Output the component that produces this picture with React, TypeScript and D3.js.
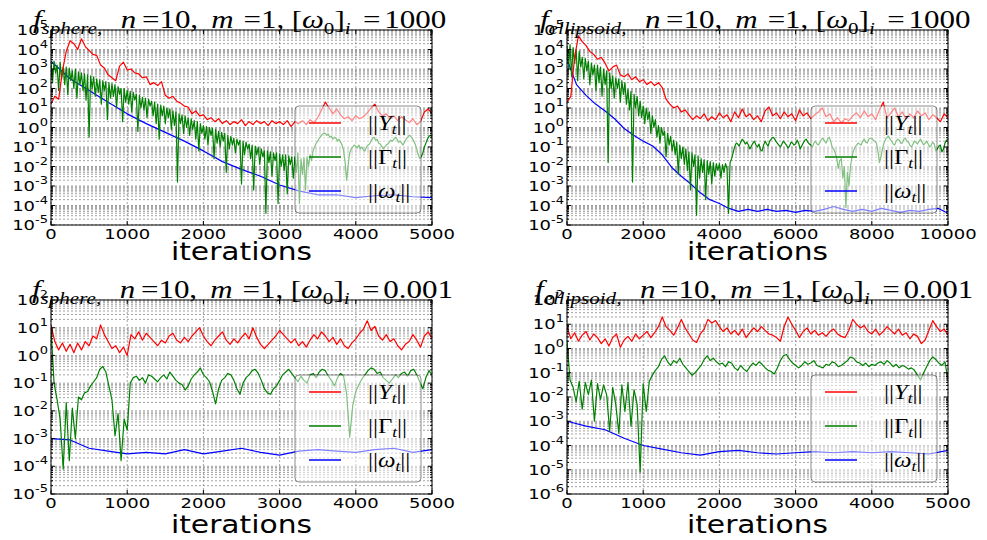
import * as d3 from 'd3';

// values are log10 of the plotted norms, one value every *Step iterations

// f_sphere, [w0]_i = 1000
const sphereHiRedStep = 50;
const sphereHiRed = [
  1.2, 1.6, 1.45, 2.9, 3.9, 4.45, 4.3, 4.0, 4.55, 4.15,
  3.95, 3.75, 3.7, 3.2, 3.05, 2.7, 2.55, 2.4, 3.15, 3.35,
  2.95, 3.0, 2.8, 2.75, 2.55, 2.6, 2.2, 2.3, 2.15, 2.35,
  1.65, 1.5, 1.6, 1.35, 1.25, 1.1, 1.05, 0.7, 0.85, 0.6,
  0.65, 0.4, 0.5, 0.3, 0.45, 0.2, 0.35, 0.15, 0.3, 0.2,
  0.4, 0.1, 0.3, 0.15, 0.35, 0.2, 0.3, 0.1, 0.35, 0.2,
  0.3, 0.15, 0.35, 0.05, 0.3, 0.2, 0.35, 0.15, 0.4, 0.25,
  0.5, 0.9, 1.3, 1.0, 0.7, 0.95, 0.65, 0.45, 0.55, 0.35,
  0.6, 0.45, 0.55, 0.75, 1.0, 1.2, 0.8, 0.6, 0.7, 0.45,
  0.6, 0.35, 0.55, 0.4, 0.25, 0.45, 0.15, 0.3, 0.8, 0.95,
  0.7,
];
const sphereHiGreenStep = 20;
const sphereHiGreen = [
  3.3, 2.3, 3.4, 2.8, 3.2, 1.9, 3.35, 2.5, 3.1, 2.2,
  3.1, 1.7, 3.05, 2.4, 2.9, 2.0, 3.0, 1.5, 2.85, 2.2,
  2.8, 1.9, 2.75, 1.4, 2.7, -0.5, 2.65, 2.0, 2.6, 1.6,
  2.5, 1.8, 2.45, 1.2, 2.4, 1.9, 2.35, 0.4, 2.3, 1.5,
  2.25, 1.6, 2.2, 1.0, 2.1, 1.7, 2.0, 0.3, 2.0, 1.3,
  1.9, 1.2, 1.85, 0.8, 1.8, 1.4, 1.7, -0.2, 1.65, 1.0,
  1.55, 0.9, 1.5, 0.5, 1.45, 1.1, 1.35, 0.6, 1.3, 0.2,
  1.2, -0.6, 1.15, 0.6, 1.1, 0.2, 1.0, 0.5, 0.95, -0.1,
  0.85, 0.1, 0.8, -2.8, 0.7, 0.2, 0.65, -0.3, 0.6, 0.0,
  0.5, -0.4, 0.45, -0.1, 0.35, -0.6, 0.3, -1.2, 0.2, -0.3,
  0.1, -0.6, 0.05, -0.9, 0.0, -0.4, -0.05, -1.6, -0.1, -0.8,
  -0.2, -1.0, -0.25, -0.7, -0.3, -2.3, -0.4, -1.1, -0.45, -0.9,
  -0.55, -1.3, -0.6, -0.9, -0.65, -2.9, -0.7, -1.4, -0.75, -1.1,
  -0.85, -1.6, -0.9, -3.2, -0.95, -1.4, -1.0, -1.9, -1.1, -1.5,
  -1.2, -4.4, -1.2, -1.8, -1.25, -2.5, -1.3, -1.7, -1.3, -3.9,
  -1.35, -2.0, -1.4, -2.2, -1.4, -3.4, -1.45, -1.9, -1.5, -2.6,
  -1.5, -2.3, -1.3, -3.9, -1.6, -2.4, -1.55, -3.2, -1.5, -2.0,
  -1.4, -1.7, -1.2, -1.0, -0.8, -0.7, -0.55, -0.45, -0.35, -0.3,
  -0.3, -0.4, -0.35, -0.5, -0.45, -0.6, -0.5, -0.55, -0.7, -0.6,
  -0.75, -0.9, -1.2, -1.8, -2.7, -1.9, -1.3, -1.1, -1.0, -0.9,
  -0.95, -1.05, -0.9, -1.1, -1.0, -1.15, -1.2, -1.0, -0.9, -0.85,
  -0.7, -0.55, -0.5, -0.65, -0.6, -0.8, -0.85, -0.95, -1.1, -1.0,
  -0.9, -0.85, -0.75, -0.65, -0.7, -0.6, -0.5, -0.6, -0.75, -0.7,
  -0.8, -0.9, -0.75, -0.6, -0.5, -0.4, -0.45, -0.55, -0.7, -0.85,
  -1.1, -1.4, -1.6, -1.5, -1.3, -1.0, -0.8, -0.6, -0.45, -0.4,
  -0.5,
];
const sphereHiBlueStep = 250;
const sphereHiBlue = [
  3.4, 2.5, 1.9, 1.3, 0.7, 0.2, -0.25, -0.7, -1.2, -1.75,
  -2.15, -2.5, -2.95, -3.25, -3.45, -3.45, -3.6, -3.5, -3.45, -3.55,
  -3.6,
];

// f_ellipsoid, [w0]_i = 1000
const ellipHiRedStep = 100;
const ellipHiRed = [
  1.3, 1.6, 3.6, 4.7, 4.4, 4.2, 3.9, 3.75, 3.5, 3.6,
  3.3, 2.9, 3.1, 3.2, 2.7, 2.6, 2.75, 2.45, 2.6, 2.35,
  2.45, 2.2, 2.35, 2.15, 2.3, 2.05, 1.45, 1.2, 1.0, 1.1,
  0.8, 0.9, 0.65, 0.4, 0.6, 0.45, 0.7, 0.35, 0.55, 0.4,
  0.75, 0.5, 0.65, 0.3, 0.8, 0.5, 0.95, 0.55, 0.7, 0.4,
  0.6, 0.3, 0.85, 1.05, 0.6, 0.75, 0.45, 0.8, 0.55, 0.7,
  0.35, 0.9, 0.6, 0.75, 0.45, 0.65, 0.8, 1.0, 0.55, 0.7,
  0.3, 0.5, 0.25, 0.45, 0.35, 0.6, 0.75, 0.5, 0.85, 0.55,
  0.7, 0.4, 0.9, 1.3, 0.5, 0.75, 1.0, 0.55, 0.8, 0.45,
  0.7, 0.5, 0.85, 0.6, 0.75, 0.4, 0.65, 0.5, 0.3, 0.7,
  0.5,
];
const ellipHiGreenStep = 40;
const ellipHiGreen = [
  4.2, 3.0, 4.25, 2.6, 4.1, 3.3, 4.0, 2.4, 3.9, 3.1,
  3.6, 2.5, 3.55, 2.9, 3.4, 2.2, 3.3, 2.7, 3.2, 1.9,
  3.2, 2.3, 3.1, 1.6, 3.0, 2.2, 2.9, -1.8, 2.8, 2.0,
  2.65, 1.5, 2.55, 2.0, 2.5, 1.3, 2.4, 1.7, 2.3, 1.2,
  1.95, 0.9, 1.85, -2.8, 1.7, 1.0, 1.6, 0.6, 1.35, 0.5,
  1.1, 0.2, 1.0, 0.4, 0.8, -0.3, 0.6, 0.0, 0.4, -0.5,
  0.1, -0.8, 0.0, -0.4, -0.2, -1.5, -0.3, -0.9, -0.45, -1.2,
  -0.65, -1.4, -0.75, -2.4, -0.9, -1.6, -1.0, -1.9, -1.1, -2.2,
  -1.25, -3.2, -1.3, -2.0, -1.4, -4.5, -1.45, -2.6, -1.6, -2.3,
  -1.65, -3.7, -1.7, -2.4, -1.75, -2.9, -1.8, -2.5, -1.85, -2.2,
  -1.85, -2.6, -1.9, -2.3, -1.85, -2.1, -4.4, -1.8, -1.6, -1.3,
  -1.0, -0.8, -0.85, -0.95, -0.75, -0.6, -0.7, -0.85, -0.75, -0.9,
  -1.1, -0.95, -0.8, -0.7, -0.9, -1.0, -0.85, -1.15, -1.2, -0.9,
  -0.7, -0.85, -0.95, -0.7, -0.6, -0.5, -0.55, -0.7, -0.8, -0.9,
  -1.0, -0.85, -0.7, -0.8, -0.9, -1.05, -0.95, -0.75, -0.8, -0.9,
  -0.85, -0.65, -0.8, -1.1, -0.95, -0.8, -0.65, -0.6, -0.75, -0.85,
  -0.9, -1.0, -0.8, -0.7, -0.85, -0.9, -0.75, -0.6, -0.55, -0.7,
  -0.8, -0.6, -0.5, -0.7, -1.0, -1.1, -1.3, -1.6, -2.1, -1.7,
  -1.6, -2.6, -2.0, -4.1, -2.3, -3.0, -2.0, -1.5, -1.2, -1.0,
  -0.9, -0.8, -0.85, -0.9, -0.7, -0.6, -0.75, -0.8, -0.6, -0.55,
  -0.55, -0.65, -0.7, -0.8, -1.2, -1.8, -1.5, -1.1, -0.8, -0.6,
  -0.5, -0.45, -0.6, -0.7, -0.85, -0.9, -0.7, -0.6, -0.65, -0.8,
  -0.8, -0.6, -0.55, -0.7, -0.75, -0.9, -1.0, -0.85, -0.7, -0.75,
  -0.85, -0.7, -0.6, -0.75, -0.9, -0.8, -0.7, -0.85, -1.0, -0.9,
  -0.75, -0.85, -1.2, -1.1, -0.95, -0.9, -1.25, -1.1, -0.8, -0.65,
  -0.6,
];
const ellipHiBlueStep = 250;
const ellipHiBlue = [
  3.5, 2.2, 1.65, 1.2, 0.85, 0.45, -0.05, -0.4, -0.7, -0.95,
  -1.4, -2.05, -2.5, -2.9, -3.35, -3.7, -3.9, -4.15, -4.3, -4.2,
  -4.3, -4.2, -4.3, -4.25, -4.35, -4.25, -4.3, -4.2, -4.05, -4.2,
  -4.3, -4.2, -4.3, -4.15, -4.25, -4.35, -4.25, -4.3, -4.2, -4.15,
  -4.4,
];

// f_sphere, [w0]_i = 0.001
const sphereLoRedStep = 50;
const sphereLoRed = [
  1.1, 0.5, 0.2, 0.45, 0.15, 0.4, 0.1, 0.45, 0.2, 0.5,
  0.35, 0.7, 0.6, 1.1, 0.75, 0.5, 0.25, 0.35, 0.1, 0.3,
  0.0, 0.75, 0.6, 0.85, 0.55, 0.8, 0.65, 0.5, 0.35, 0.55,
  0.45, 0.7, 0.8, 0.55, 0.45, 0.65, 0.5, 0.7, 0.85, 1.0,
  0.7, 0.5, 0.35, 0.55, 0.7, 0.85, 0.55, 0.4, 0.6, 0.45,
  0.65, 0.8, 0.6, 1.0, 0.65, 0.4, 0.25, 0.4, 0.55, 0.7,
  0.9, 0.75, 0.6, 0.45, 0.6, 0.35, 0.5, 0.3, 0.55, 0.75,
  0.6, 0.85, 0.7, 0.5, 0.65, 0.4, 0.6, 0.35, 0.25, 0.45,
  0.6, 0.8, 0.95, 1.25, 0.9, 1.05, 0.7, 0.55, 0.75, 0.5,
  0.6, 0.35, 0.2, 0.4, 0.5, 0.75, 0.55, 0.3, 0.7, 0.85,
  0.6,
];
const sphereLoGreenStep = 40;
const sphereLoGreen = [
  1.0, -1.0, -1.6, -2.3, -4.1, -1.7, -3.8, -1.9, -3.0, -1.5,
  -1.6, -1.35, -1.3, -1.1, -0.95, -0.8, -0.5, -0.4, -0.6, -1.1,
  -1.6, -2.9, -2.1, -3.8, -2.3, -2.7, -1.0, -0.8, -0.75, -0.9,
  -0.8, -1.0, -0.7, -0.75, -0.85, -0.95, -0.8, -0.7, -0.85, -0.6,
  -0.75, -0.9, -1.0, -1.05, -1.25, -1.1, -0.85, -0.7, -0.6, -0.45,
  -0.7, -0.8, -0.95, -1.3, -1.75, -1.2, -0.9, -0.8, -0.65, -0.7,
  -0.9, -1.2, -1.4, -1.0, -0.8, -0.7, -0.55, -0.5, -0.65, -0.9,
  -1.2, -1.35, -1.4, -1.2, -1.1, -0.9, -0.7, -0.6, -0.5, -0.65,
  -0.8, -0.95, -0.75, -0.9, -1.0, -0.7, -0.65, -0.8, -0.6, -0.5,
  -0.55, -0.75, -0.9, -1.1, -0.8, -0.65, -0.75, -1.4, -2.95, -1.8,
  -1.3, -1.05, -0.85, -0.7, -0.55, -0.45, -0.5, -0.65, -0.6, -0.8,
  -0.9, -1.0, -0.85, -0.7, -0.8, -0.65, -0.6, -0.75, -0.55, -0.5,
  -0.7, -0.95, -1.2, -0.8, -0.55, -0.7,
];
const sphereLoBlueStep = 250;
const sphereLoBlue = [
  -3.0, -3.05, -3.35, -3.45, -3.55, -3.5, -3.55, -3.4, -3.55, -3.45,
  -3.35, -3.5, -3.6, -3.45, -3.4, -3.45, -3.5, -3.4, -3.35, -3.5,
  -3.4,
];

// f_ellipsoid, [w0]_i = 0.001
const ellipLoRedStep = 50;
const ellipLoRed = [
  0.9, 0.4, 0.65, 0.3, 0.55, 0.7, 0.35, 0.6, 0.45, 0.2,
  0.4, 0.1, 0.45, 0.6, 0.05, 0.35, 0.5, 0.3, 0.6, 0.4,
  0.55, 0.7, 0.45, 0.65, 0.9, 1.3, 0.9, 0.75, 0.55, 0.85,
  1.2, 0.85, 0.6, 0.35, 0.25, 0.6, 0.8, 1.2, 1.05, 1.15,
  0.9, 0.7, 0.85, 0.6, 0.75, 0.55, 0.8, 0.45, 0.65, 0.85,
  0.7, 0.9, 0.75, 0.6, 0.55, 0.45, 0.3, 0.9, 1.3, 1.0,
  0.75, 0.45, 0.7, 0.85, 0.6, 0.75, 0.55, 0.65, 0.5, 0.7,
  0.8, 0.6, 0.5, 0.45, 0.75, 1.2, 1.0, 0.85, 0.95, 0.7,
  0.6, 0.8, 0.55, 0.7, 0.9, 0.75, 0.6, 0.8, 0.55, 0.65,
  0.4, 0.6, 0.5, 0.2, 0.35, 0.75, 1.15, 0.9, 0.7, 0.8,
  0.55,
];
const ellipLoGreenStep = 40;
const ellipLoGreen = [
  0.3, -1.3, -1.6, -2.2, -1.35, -2.5, -1.4, -1.9, -1.3, -3.0,
  -1.45, -2.1, -1.5, -1.9, -3.4, -1.6, -2.3, -3.5, -1.5, -2.6,
  -1.4, -3.2, -1.7, -2.3, -5.1, -1.45, -2.6, -1.35, -1.1, -0.9,
  -0.75, -0.45, -0.3, -0.55, -0.7, -0.5, -0.6, -0.4, -0.65, -0.8,
  -0.95, -1.1, -1.0, -0.85, -0.7, -0.45, -0.3, -0.5, -0.4, -0.55,
  -0.65, -0.6, -0.75, -0.55, -0.6, -0.8, -0.9, -0.7, -0.85, -0.95,
  -0.75, -0.6, -0.7, -0.55, -0.65, -0.8, -0.9, -0.95, -1.05, -0.8,
  -0.5, -0.3, -0.25, -0.45, -0.6, -0.7, -0.8, -0.7, -0.55, -0.65,
  -0.6, -0.5, -0.7, -0.75, -0.8, -0.65, -0.7, -0.55, -0.6, -0.75,
  -0.7, -0.6, -0.5, -0.35, -0.4, -0.55, -0.6, -0.7, -0.6, -0.75,
  -0.65, -0.7, -0.6, -0.55, -0.65, -0.5, -0.6, -0.75, -0.65, -0.8,
  -0.7, -0.75, -0.85, -0.8, -0.9, -1.1, -1.3, -1.0, -0.75, -0.5,
  -0.35, -0.45, -0.6, -0.7, -0.55, -1.3,
];
const ellipLoBlueStep = 250;
const ellipLoBlue = [
  -3.0, -3.2, -3.35, -3.7, -4.0, -4.15, -4.3, -4.4, -4.25, -4.2,
  -4.3, -4.35, -4.3, -4.25, -4.3, -4.25, -4.3, -4.25, -4.3, -4.35,
  -4.2,
];

const COLORS = { red: '#ff0000', green: '#008000', blue: '#0000ff' };
const SX = 1.24; // the source figure is stretched horizontally
const SERIF = "'Liberation Serif', 'DejaVu Serif', serif";
const SANS = "'DejaVu Sans', sans-serif";

type Series = { vals: number[]; step: number; color: string };

const panels = [
  {
    id: 'p1', fn: 'sphere', w0: '1000', xMax: 5000, lo: -5, hi: 5,
    left: 51, right: 432, top: 30, bottom: 225, xlabelY: 260, titleX: 33,
    series: [
      { vals: sphereHiBlue, step: sphereHiBlueStep, color: COLORS.blue },
      { vals: sphereHiGreen, step: sphereHiGreenStep, color: COLORS.green },
      { vals: sphereHiRed, step: sphereHiRedStep, color: COLORS.red },
    ],
  },
  {
    id: 'p2', fn: 'ellipsoid', w0: '1000', xMax: 10000, lo: -5, hi: 5,
    left: 567, right: 948, top: 30, bottom: 225, xlabelY: 260, titleX: 540,
    series: [
      { vals: ellipHiBlue, step: ellipHiBlueStep, color: COLORS.blue },
      { vals: ellipHiGreen, step: ellipHiGreenStep, color: COLORS.green },
      { vals: ellipHiRed, step: ellipHiRedStep, color: COLORS.red },
    ],
  },
  {
    id: 'p3', fn: 'sphere', w0: '0.001', xMax: 5000, lo: -5, hi: 2,
    left: 51, right: 432, top: 300, bottom: 494, xlabelY: 533, titleX: 32,
    series: [
      { vals: sphereLoBlue, step: sphereLoBlueStep, color: COLORS.blue },
      { vals: sphereLoGreen, step: sphereLoGreenStep, color: COLORS.green },
      { vals: sphereLoRed, step: sphereLoRedStep, color: COLORS.red },
    ],
  },
  {
    id: 'p4', fn: 'ellipsoid', w0: '0.001', xMax: 5000, lo: -6, hi: 2,
    left: 567, right: 948, top: 300, bottom: 494, xlabelY: 533, titleX: 535,
    series: [
      { vals: ellipLoBlue, step: ellipLoBlueStep, color: COLORS.blue },
      { vals: ellipLoGreen, step: ellipLoGreenStep, color: COLORS.green },
      { vals: ellipLoRed, step: ellipLoRedStep, color: COLORS.red },
    ],
  },
];

function Stretched({ x, y, children }: { x: number; y: number; children: any }) {
  return <g transform={`translate(${x},${y}) scale(${SX},1)`}>{children}</g>;
}

function Title({ x, y, fn, w0 }: { x: number; y: number; fn: string; w0: string }) {
  return (
    <Stretched x={x} y={y}>
      <text fontFamily={SERIF} fontSize={25} fill="#000" style={{ whiteSpace: 'pre' }}>
        <tspan fontStyle="italic">f</tspan>
        <tspan fontStyle="italic" fontSize={17} dy={6}>{fn + ','}</tspan>
        <tspan fontStyle="italic" dy={-6} dx={15}>n</tspan>
        <tspan dx={4.5}>=10,</tspan>
        <tspan fontStyle="italic" dx={10.5}>m</tspan>
        <tspan dx={8}>=1,</tspan>
        <tspan dx={6}>[</tspan>
        <tspan fontStyle="italic">ω</tspan>
        <tspan fontSize={17} dy={6}>0</tspan>
        <tspan dy={-6}>]</tspan>
        <tspan fontStyle="italic" fontSize={17} dy={6}>i</tspan>
        <tspan dy={-6} dx={10}>=</tspan>
        <tspan dx={3}>{w0}</tspan>
      </text>
    </Stretched>
  );
}

const legendItems = [
  { color: COLORS.red, sym: 'Y', italic: true },
  { color: COLORS.green, sym: 'Γ', italic: false },
  { color: COLORS.blue, sym: 'ω', italic: true },
];

function Legend({ right, bottom }: { right: number; bottom: number }) {
  const lx = right - 137;
  const ly = bottom - 119;
  return (
    <g>
      <rect x={lx} y={ly} width={126} height={107} rx={4} ry={4}
        fill="#fff" fillOpacity={0.5} stroke="#000" strokeOpacity={0.45} strokeWidth={1} />
      {legendItems.map((it, i) => {
        const ry = ly + 17 + i * 34;
        return (
          <g key={it.sym}>
            <line x1={lx + 14} x2={lx + 46} y1={ry} y2={ry} stroke={it.color} strokeWidth={1.5} />
            <Stretched x={lx + 73} y={ry + 7}>
              <text fontFamily={SERIF} fontSize={20} fill="#000">
                <tspan>||</tspan>
                <tspan fontStyle={it.italic ? 'italic' : 'normal'}>{it.sym}</tspan>
                <tspan fontStyle="italic" fontSize={14} dy={4}>t</tspan>
                <tspan dy={-4}>||</tspan>
              </text>
            </Stretched>
          </g>
        );
      })}
    </g>
  );
}

function Panel({ p }: { p: typeof panels[number] }) {
  const x = d3.scaleLinear().domain([0, p.xMax]).range([p.left, p.right]);
  const y = d3.scaleLog().domain([10 ** p.lo, 10 ** p.hi]).range([p.bottom, p.top]);
  const decades = d3.range(p.lo, p.hi + 1);
  const minors = d3.range(p.lo, p.hi).flatMap((e) => d3.range(2, 10).map((k) => k * 10 ** e));
  const hLines = [...decades.map((e) => 10 ** e), ...minors];
  const xTicks = x.ticks(5);
  const path = (s: Series) =>
    d3.line<number>()
      .x((_, i) => x(i * s.step))
      .y((v) => y(10 ** v))(s.vals) || '';
  const cx = (p.left + p.right) / 2;

  return (
    <g>
      <defs>
        <clipPath id={`clip-${p.id}`}>
          <rect x={p.left} y={p.top} width={p.right - p.left} height={p.bottom - p.top} />
        </clipPath>
      </defs>
      <rect x={p.left} y={p.top} width={p.right - p.left} height={p.bottom - p.top} fill="#fff" />
      {/* grid on every decade and every minor step of the log axis */}
      {hLines.map((v, i) => (
        <line key={`hg${i}`} x1={p.left} x2={p.right} y1={y(v)} y2={y(v)}
          stroke="#8c8c8c" strokeWidth={0.8} strokeDasharray="2,2" />
      ))}
      {xTicks.map((t) => (
        <line key={`vg${t}`} x1={x(t)} x2={x(t)} y1={p.top} y2={p.bottom}
          stroke="#8c8c8c" strokeWidth={0.8} strokeDasharray="2,2" />
      ))}
      <g clipPath={`url(#clip-${p.id})`}>
        {p.series.map((s, i) => (
          <path key={i} d={path(s)} fill="none" stroke={s.color} strokeWidth={1.2} strokeLinejoin="round" />
        ))}
      </g>
      <Legend right={p.right} bottom={p.bottom} />
      {/* inward ticks */}
      {decades.map((e) => (
        <g key={`ytM${e}`} stroke="#000" strokeWidth={1}>
          <line x1={p.left} x2={p.left + 4} y1={y(10 ** e)} y2={y(10 ** e)} />
          <line x1={p.right - 4} x2={p.right} y1={y(10 ** e)} y2={y(10 ** e)} />
        </g>
      ))}
      {minors.map((v, i) => (
        <g key={`ytm${i}`} stroke="#000" strokeWidth={1}>
          <line x1={p.left} x2={p.left + 2} y1={y(v)} y2={y(v)} />
          <line x1={p.right - 2} x2={p.right} y1={y(v)} y2={y(v)} />
        </g>
      ))}
      {xTicks.map((t) => (
        <g key={`xt${t}`} stroke="#000" strokeWidth={1}>
          <line x1={x(t)} x2={x(t)} y1={p.bottom} y2={p.bottom - 4} />
          <line x1={x(t)} x2={x(t)} y1={p.top} y2={p.top + 4} />
        </g>
      ))}
      <rect x={p.left} y={p.top} width={p.right - p.left} height={p.bottom - p.top}
        fill="none" stroke="#000" strokeWidth={1} />
      {/* tick labels */}
      {decades.map((e) => (
        <Stretched key={`yl${e}`} x={p.left - 3} y={y(10 ** e) + 5.2}>
          <text textAnchor="end" fontFamily={SANS} fontSize={14.5} fill="#000">
            10<tspan fontSize={10.5} dy={-7}>{String(e)}</tspan>
          </text>
        </Stretched>
      ))}
      {xTicks.map((t) => (
        <Stretched key={`xl${t}`} x={x(t)} y={p.bottom + 13.5}>
          <text textAnchor="middle" fontFamily={SANS} fontSize={14.5} fill="#000">{String(t)}</text>
        </Stretched>
      ))}
      <Stretched x={cx} y={p.xlabelY}>
        <text textAnchor="middle" fontFamily={SANS} fontSize={24} fill="#000">iterations</text>
      </Stretched>
      <Title x={p.titleX} y={p.top - 2} fn={p.fn} w0={p.w0} />
    </g>
  );
}

export default function App() {
  return (
    <svg width={987} height={540} style={{ position: 'absolute', left: 0, top: 0, background: '#fff' }}>
      {panels.map((p) => (
        <Panel key={p.id} p={p} />
      ))}
    </svg>
  );
}
